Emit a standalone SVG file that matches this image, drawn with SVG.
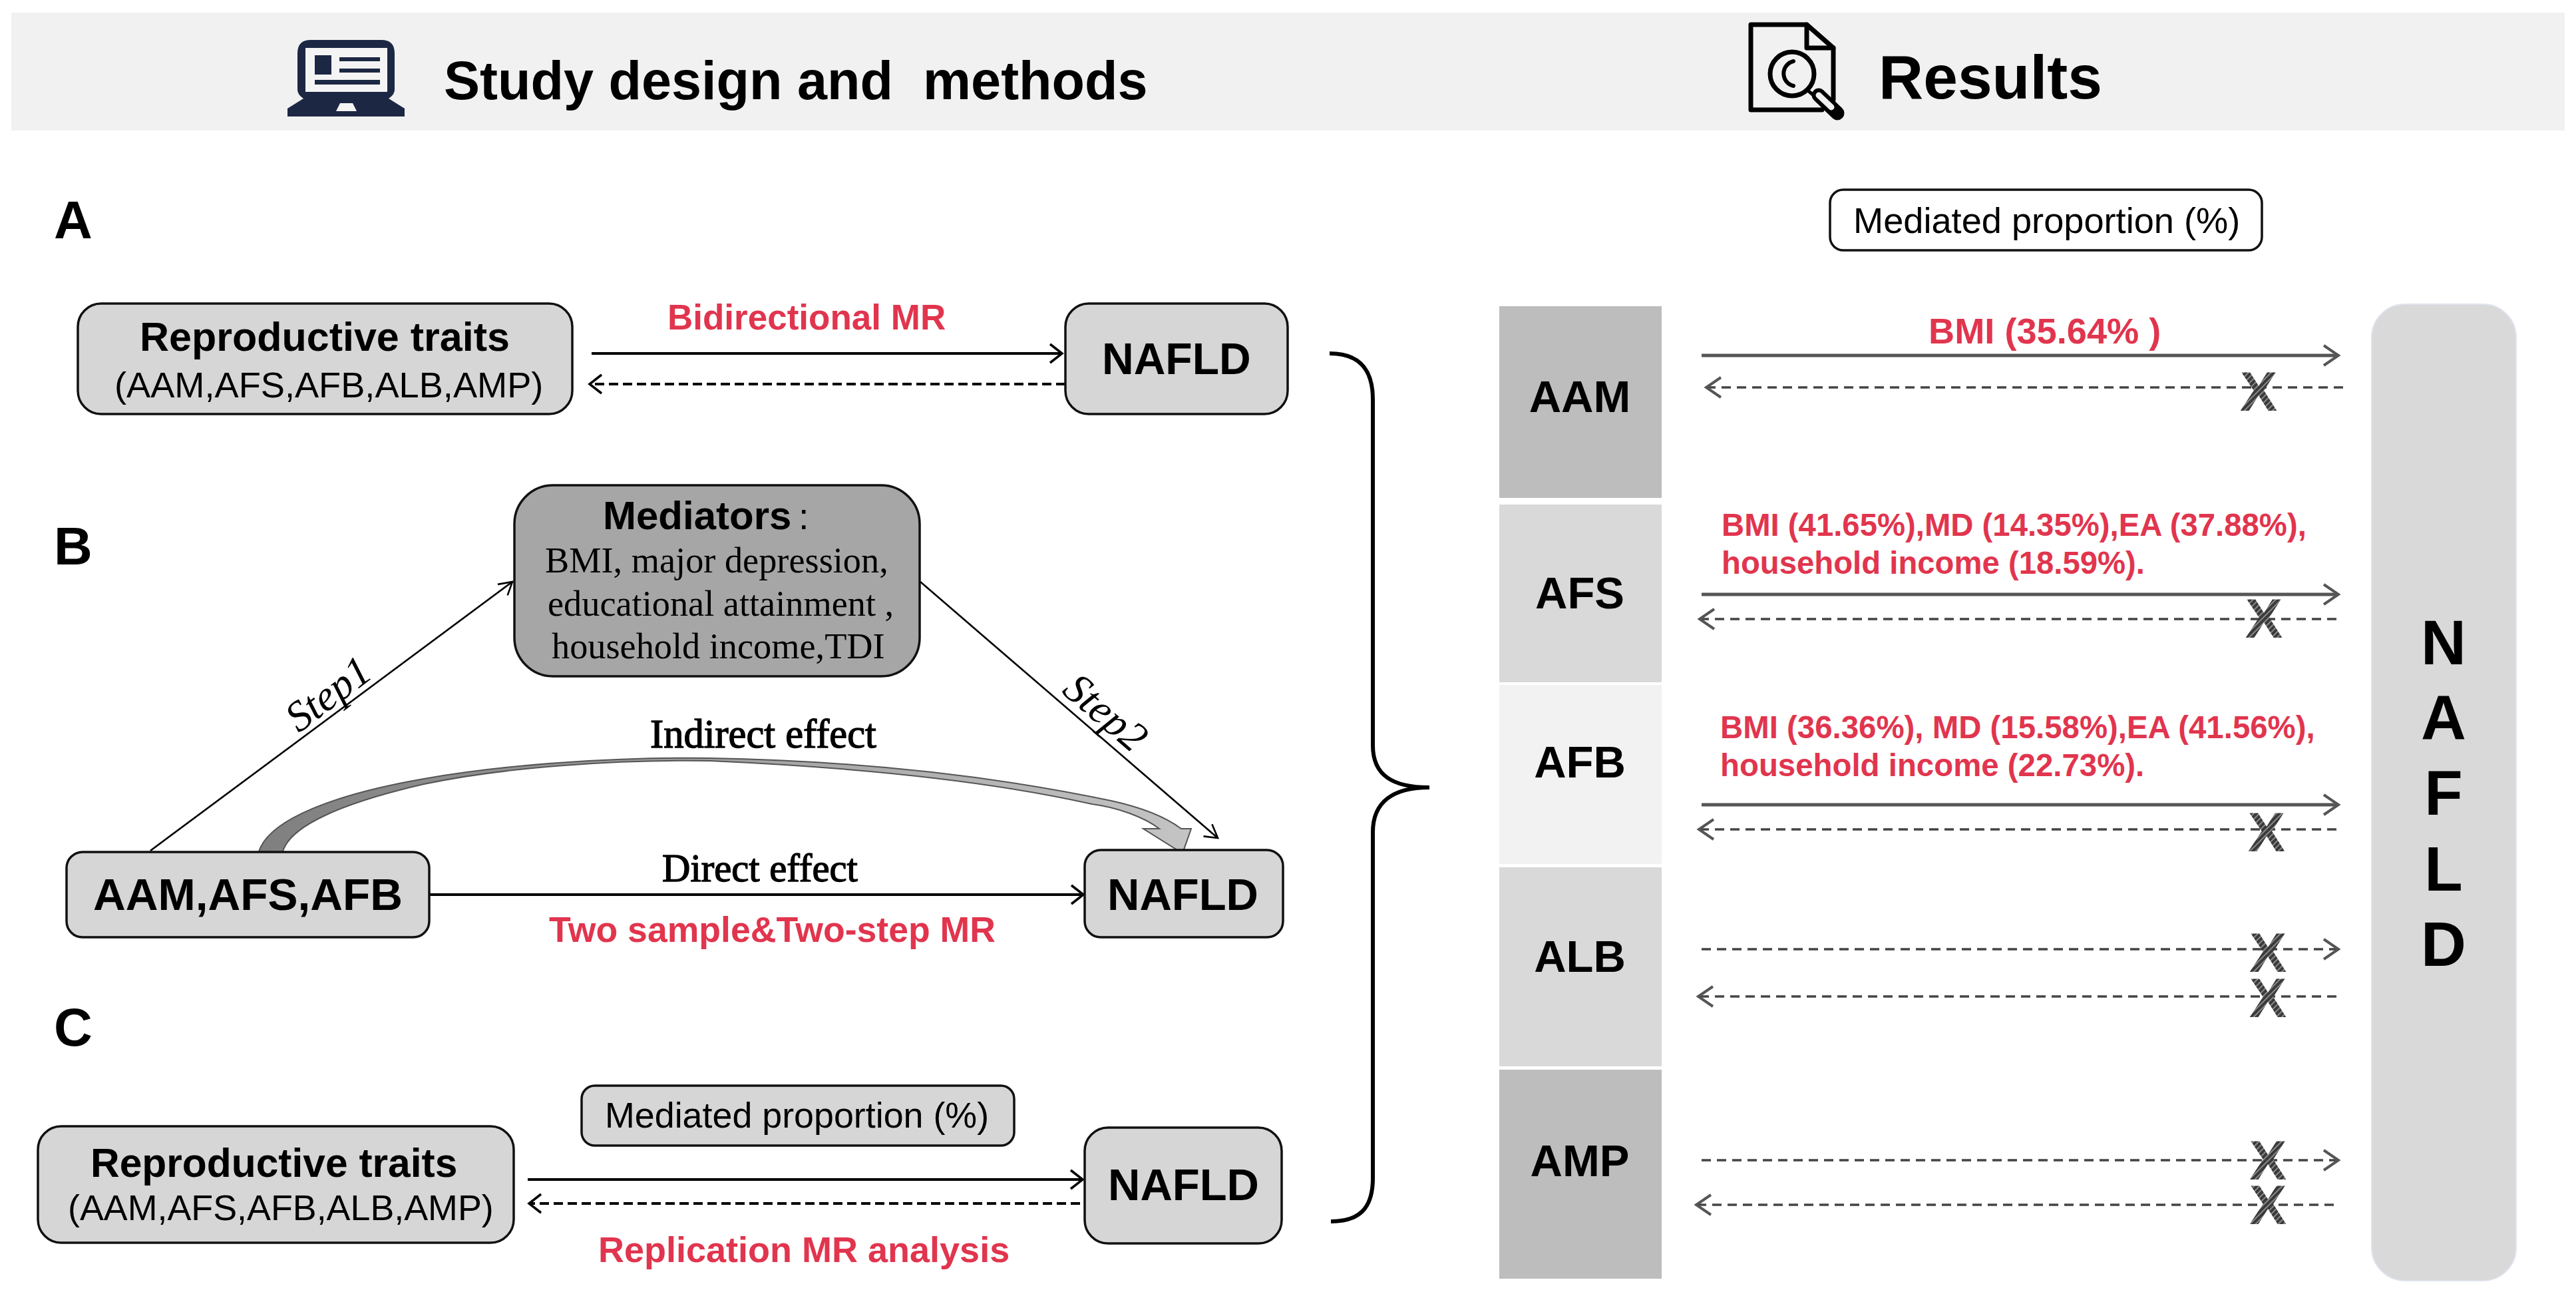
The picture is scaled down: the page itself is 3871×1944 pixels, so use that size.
<svg xmlns="http://www.w3.org/2000/svg" width="3871" height="1944" viewBox="0 0 3871 1944">
<style>
text{font-family:"Liberation Sans",Arial,sans-serif;fill:#000;white-space:pre}
.b{font-weight:700}
.h1{font-weight:700}
.red{font-weight:700;fill:#e1354e}
.serif{font-family:"Liberation Serif","Times New Roman",serif}
.box{fill:#d6d6d6;stroke:#111;stroke-width:3.5}
.ln{fill:none;stroke:#000;stroke-width:4}
.thin{fill:none;stroke:#000;stroke-width:2.6}
.dash{stroke-dasharray:14 7}
.g{fill:none;stroke:#555;stroke-width:5}
.gd{fill:none;stroke:#444;stroke-width:3.5;stroke-dasharray:14 9}
.x{font-weight:700;font-size:84px;fill:url(#hatch);text-anchor:middle}
.row{font-weight:700;font-size:67px;text-anchor:middle}
.nl{font-weight:700;font-size:94px;text-anchor:middle}
</style>
<defs>
<marker id="ah" markerUnits="userSpaceOnUse" markerWidth="30" markerHeight="36" refX="20" refY="18" orient="auto" overflow="visible"><path d="M2 4L20 18L2 32" fill="none" stroke="#000" stroke-width="3.5"/></marker>
<marker id="at" markerUnits="userSpaceOnUse" markerWidth="30" markerHeight="36" refX="24" refY="18" orient="auto" overflow="visible"><path d="M4 8L24 18L6 30" fill="none" stroke="#000" stroke-width="2.6"/></marker>
<marker id="ag" markerUnits="userSpaceOnUse" markerWidth="30" markerHeight="36" refX="26" refY="18" orient="auto" overflow="visible"><path d="M4 3L26 18L4 33" fill="none" stroke="#555" stroke-width="4"/></marker>
<pattern id="hatch" patternUnits="userSpaceOnUse" width="6" height="6" patternTransform="rotate(45)"><rect width="6" height="6" fill="#3a3a3a"/><rect width="2" height="6" fill="#8a8a8a"/></pattern>
<linearGradient id="curve" gradientUnits="userSpaceOnUse" x1="388" y1="0" x2="1790" y2="0"><stop offset="0" stop-color="#7f7f7f"/><stop offset="1" stop-color="#c4c4c4"/></linearGradient>
</defs>

<g id="headers">
<rect x="17" y="19" width="3837" height="177" fill="#f1f1f1"/>
<g id="laptop-icon" fill="#1c2744">
<path d="M467 60H573Q593 60 593 80V135Q593 142 584 148L608 163V175H432V163L456 148Q447 142 447 135V80Q447 60 467 60Z"/>
<rect x="459" y="72" width="123" height="66" fill="#f4f4f4"/>
<rect x="473" y="83" width="25" height="29"/>
<rect x="510" y="86" width="61" height="6"/>
<rect x="510" y="103" width="61" height="6"/>
<rect x="473" y="120" width="98" height="7"/>
<path d="M511 155H530L536 167H505Z" fill="#f4f4f4"/>
</g>
<text class="h1" x="667" y="149" font-size="81">Study design and  methods</text>
<g id="doc-icon" fill="none" stroke="#000" stroke-width="7" stroke-linejoin="round" stroke-linecap="round">
<path d="M2755 150V72L2715 37H2631V165H2738"/>
<path d="M2715 37V72H2755"/>
<circle cx="2693" cy="111" r="33"/>
<path d="M2695 92A19 19 0 0 0 2695 129" stroke-width="6"/>
<path d="M2718 137L2731 148" stroke-width="5"/>
<path d="M2733 143L2761 170" stroke-width="21"/>
<path d="M2733 143L2752 161" stroke="#f1f1f1" stroke-width="9"/>
</g>
<text class="h1" x="2823" y="148" font-size="93">Results</text>
</g>

<g id="panel-letters">
<text class="b" x="81" y="358" font-size="80">A</text>
<text class="b" x="81" y="848" font-size="80">B</text>
<text class="b" x="81" y="1571" font-size="80">C</text>
</g>

<g id="connectors">
<path class="ln" d="M889 531H1596" marker-end="url(#ah)"/>
<path class="ln dash" d="M1601 577H886" marker-end="url(#ah)"/>
<path class="thin" d="M226 1278L770 874" marker-end="url(#at)"/>
<path class="thin" d="M1383 874L1830 1259" marker-end="url(#at)"/>
<path d="M388 1283C400 1230 510 1192 637 1170C760 1148 930 1137 1067 1139C1290 1143 1490 1165 1670 1203C1720 1214 1755 1230 1775 1245L1790 1245L1777 1282L1718 1245L1742 1245C1720 1228 1680 1213 1641 1208C1490 1174 1290 1153 1067 1143C930 1141 760 1152 637 1178C520 1205 432 1240 424 1283Z" fill="url(#curve)" stroke="#555" stroke-width="2"/>
<path class="ln" d="M645 1344H1628" marker-end="url(#ah)"/>
<path class="ln" d="M793 1772H1627" marker-end="url(#ah)"/>
<path class="ln dash" d="M1623 1808H795" marker-end="url(#ah)"/>
<path d="M1998 531C2043 531 2063 555 2063 600V1120C2063 1165 2093 1183 2148 1183C2093 1183 2063 1205 2063 1250V1770C2063 1815 2043 1835 2000 1835" fill="none" stroke="#000" stroke-width="6"/>
<path class="g" d="M2557 534H3514" marker-end="url(#ag)"/>
<path class="gd" d="M3521 582H2564" marker-end="url(#ag)"/>
<path class="g" d="M2557 893H3514" marker-end="url(#ag)"/>
<path class="gd" d="M3511 930H2554" marker-end="url(#ag)"/>
<path class="g" d="M2557 1209H3514" marker-end="url(#ag)"/>
<path class="gd" d="M3511 1246H2553" marker-end="url(#ag)"/>
<path class="gd" d="M2557 1426H3514" marker-end="url(#ag)"/>
<path class="gd" d="M3511 1497H2552" marker-end="url(#ag)"/>
<path class="gd" d="M2557 1743H3514" marker-end="url(#ag)"/>
<path class="gd" d="M3507 1810H2549" marker-end="url(#ag)"/>
</g>

<g id="node-a-traits">
<rect class="box" x="117" y="456" width="743" height="166" rx="35"/>
<text class="b" x="210" y="527" font-size="61">Reproductive traits</text>
<text x="172" y="597" font-size="54.2">(AAM,AFS,AFB,ALB,AMP)</text>
</g>
<g id="node-a-nafld">
<rect class="box" x="1601" y="456" width="334" height="166" rx="35"/>
<text class="b" x="1656" y="562" font-size="66">NAFLD</text>
</g>
<text class="red" x="1003" y="495" font-size="53">Bidirectional MR</text>

<g id="node-mediators">
<rect x="773" y="729" width="609" height="287" rx="58" fill="#a6a6a6" stroke="#111" stroke-width="3.5"/>
<text class="b" x="906" y="795" font-size="60">Mediators</text>
<text x="1200" y="795" font-size="56">:</text>
<text class="serif" x="819" y="860" font-size="54.3">BMI, major depression,</text>
<text class="serif" x="823" y="925" font-size="54.3">educational attainment ,</text>
<text class="serif" x="829" y="989" font-size="54.3">household income,TDI</text>
</g>
<g id="node-b-traits">
<rect class="box" x="100" y="1280" width="545" height="128" rx="24"/>
<text class="b" x="140" y="1367" font-size="67.5">AAM,AFS,AFB</text>
</g>
<g id="node-b-nafld">
<rect class="box" x="1630" y="1277" width="298" height="131" rx="24"/>
<text class="b" x="1664" y="1367" font-size="67">NAFLD</text>
</g>
<text class="serif" font-style="italic" font-size="64" transform="translate(449 1102) rotate(-37)">Step1</text>
<text class="serif" font-style="italic" font-size="64" transform="translate(1594 1040) rotate(40.7)">Step2</text>
<text class="serif" x="977" y="1123" font-size="60.5" stroke="#000" stroke-width="1.4">Indirect effect</text>
<text class="serif" x="995" y="1324" font-size="58.7" stroke="#000" stroke-width="1.4">Direct effect</text>
<text class="red" x="825" y="1415" font-size="53.6">Two sample&amp;Two-step MR</text>

<g id="node-c-traits">
<rect class="box" x="57" y="1692" width="715" height="175" rx="35"/>
<text class="b" x="136" y="1768" font-size="60.5">Reproductive traits</text>
<text x="102" y="1833" font-size="53.8">(AAM,AFS,AFB,ALB,AMP)</text>
</g>
<g id="node-c-mediated">
<rect class="box" x="874" y="1631" width="650" height="90" rx="20"/>
<text x="909" y="1694" font-size="53.8">Mediated proportion (%)</text>
</g>
<g id="node-c-nafld">
<rect class="box" x="1630" y="1694" width="296" height="174" rx="35"/>
<text class="b" x="1665" y="1803" font-size="67">NAFLD</text>
</g>
<text class="red" x="899" y="1896" font-size="54">Replication MR analysis</text>

<g id="node-r-mediated">
<rect x="2750" y="285" width="649" height="91" rx="20" fill="#fff" stroke="#111" stroke-width="3.5"/>
<text x="2785" y="350" font-size="54.2">Mediated proportion (%)</text>
</g>
<g id="node-aam"><rect x="2253" y="460" width="244" height="288" fill="#bdbdbd"/><text class="row" x="2374" y="619">AAM</text></g>
<g id="node-afs"><rect x="2253" y="758" width="244" height="267" fill="#d9d9d9"/><text class="row" x="2374" y="914">AFS</text></g>
<g id="node-afb"><rect x="2253" y="1029" width="244" height="269" fill="#f2f2f2"/><text class="row" x="2374" y="1168">AFB</text></g>
<g id="node-alb"><rect x="2253" y="1303" width="244" height="299" fill="#d9d9d9"/><text class="row" x="2374" y="1460">ALB</text></g>
<g id="node-amp"><rect x="2253" y="1607" width="244" height="314" fill="#bdbdbd"/><text class="row" x="2374" y="1767">AMP</text></g>
<g id="node-r-nafld">
<rect x="3564" y="457" width="217" height="1467" rx="50" fill="#d9d9d9" stroke="#dfe3ee" stroke-width="2"/>
<text class="nl" x="3672" y="998">N</text>
<text class="nl" x="3672" y="1111">A</text>
<text class="nl" x="3672" y="1224">F</text>
<text class="nl" x="3672" y="1338">L</text>
<text class="nl" x="3672" y="1451">D</text>
</g>

<g id="result-labels">
<text class="red" x="2898" y="516" font-size="54.2">BMI (35.64% )</text>
<text class="red" x="2587" y="805" font-size="47.3">BMI (41.65%),MD (14.35%),EA (37.88%),</text>
<text class="red" x="2587" y="862" font-size="47.3">household income (18.59%).</text>
<text class="red" x="2585" y="1109" font-size="47.4">BMI (36.36%), MD (15.58%),EA (41.56%),</text>
<text class="red" x="2585" y="1166" font-size="47.4">household income (22.73%).</text>
</g>
<g id="x-marks">
<text class="x" x="3394" y="617">X</text>
<text class="x" x="3402" y="958">X</text>
<text class="x" x="3406" y="1279">X</text>
<text class="x" x="3408" y="1460">X</text>
<text class="x" x="3408" y="1528">X</text>
<text class="x" x="3408" y="1772">X</text>
<text class="x" x="3408" y="1839">X</text>
</g>
</svg>
